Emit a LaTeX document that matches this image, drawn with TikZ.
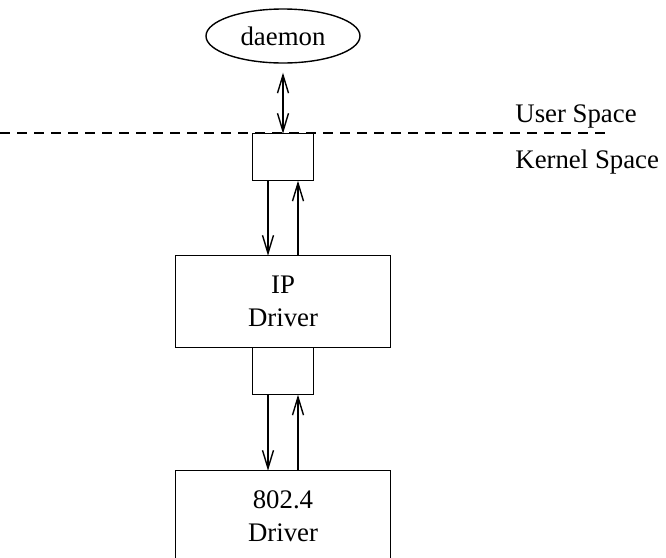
\documentclass[tikz,border=0pt]{standalone}
\usepackage{fontspec}
\setmainfont{Liberation Serif}
\usetikzlibrary{arrows.meta, shapes, positioning}

\begin{document}
\begin{tikzpicture}[x=0.5pt, y=-0.5pt,
	font=\fontsize{13.4}{16.5}\selectfont,
proc/.style={
	ellipse,
	draw,
	line width=0.7pt,
	minimum width=77pt,
	minimum height=27pt,
	inner sep=0pt},
queue/.style={
	rectangle,
	draw,
	line width=0.7pt,
	minimum width=30.5pt,
	minimum height=23.5pt,
	outer sep=0pt,
	inner sep=0pt},
driver/.style={
	rectangle,
	draw,
	line width=0.7pt,
	minimum width=107.5pt,
	minimum height=46pt,
	align=center,
	outer sep=0pt,
	inner sep=0pt},
post/.style={
	-{Straight Barb[length=9pt,width=5.5pt]},
	draw,
	line width=0.7pt},
twoway/.style={
	{Straight Barb[length=9pt,width=5.5pt]}-{Straight Barb[length=9pt,width=5.5pt]},
	draw,
	shorten <=4.5pt,
	line width=0.7pt},
border/.style={
	draw,
	line width=0.7pt,
	dash pattern=on 5pt off 3.5pt},
space/.style={
	anchor=base west,
	inner sep=0pt}]

\useasboundingbox (0,0) rectangle (666,558);

%Process and queues

\node[proc] (daemon) at (283,36) {daemon};
\node[queue, below = 35pt of daemon] (QU) {};
\node[driver, below = 37.5pt of QU] (IP) {IP\\ Driver};
\node[queue, below = 0pt of IP] (QL) {};
\node[driver, below = 38pt of QL] (Drv) {802.4\\ Driver};

\path[twoway] (daemon) to (QU.north);

\foreach \up/\low in {QU/IP, QL/Drv} {
	\path[post] ([xshift=-7.5pt]\up.south) to ([xshift=-7.5pt]\low.north);
	\path[post] ([xshift=7.5pt]\low.north) to ([xshift=7.5pt]\up.south);
}

%User/kernel boundary

\coordinate (sepL) at (0,133);
\coordinate (sepR) at (605,133);
\path[border] (sepL) to (sepR);

\node[space] (user) at (515,122) {User Space};
\node[space] (kernel) at (515,168) {Kernel Space};
\end{tikzpicture}
\end{document}
